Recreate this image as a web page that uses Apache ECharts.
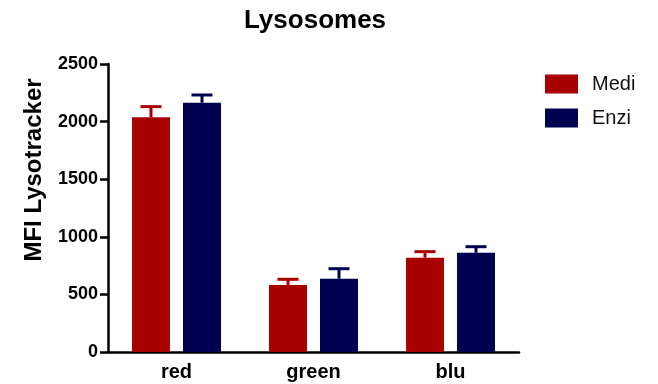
<!DOCTYPE html>
<html>
<head>
<meta charset="utf-8">
<style>
  html, body { margin: 0; padding: 0; background: #fff; }
  #chart { width: 658px; height: 384px; }
</style>
<script src="https://cdn.jsdelivr.net/npm/echarts@6/dist/echarts.min.js"></script>
</head>
<body>
<div id="chart"></div>
<script>
// Lysotracker mean fluorescence per channel, two conditions (mean + SEM)
const categories = ['red', 'green', 'blu'];
const mediMean = [2037, 582, 819];
const mediErr = [93, 49, 52];
const enziMean = [2164, 636, 862];
const enziErr = [67, 87, 52];
const yTicks = [0, 500, 1000, 1500, 2000, 2500];

const RED = '#A80000';
const NAVY = '#000050';
const FONT = 'Liberation Sans, Arial, sans-serif';
const BAR_W = 38;
const BAR_GAP = 13;

// Upward error bar (stem + cap) drawn on top of a bar, shifted to its slot
function errorBar(offset, color) {
  return function (params, api) {
    const idx = api.value(0);
    const top = api.coord([idx, api.value(2)]);
    const base = api.coord([idx, api.value(1)]);
    const x = top[0] + offset;
    const capHalf = 10.5;
    return {
      type: 'group',
      children: [
        { type: 'line', shape: { x1: x, y1: base[1], x2: x, y2: top[1] },
          style: { stroke: color, lineWidth: 3 } },
        { type: 'line', shape: { x1: x - capHalf, y1: top[1], x2: x + capHalf, y2: top[1] },
          style: { stroke: color, lineWidth: 3 } }
      ]
    };
  };
}

function errData(mean, err) {
  return mean.map((m, i) => [i, m, m + err[i]]);
}

const chart = echarts.init(document.getElementById('chart'), null, { renderer: 'canvas' });
const half = (BAR_W + BAR_GAP) / 2;

chart.setOption({
  animation: false,
  backgroundColor: '#ffffff',
  title: {
    text: 'Lysosomes',
    left: 310,
    textAlign: 'center',
    top: 3,
    textStyle: { fontFamily: FONT, fontSize: 26, fontWeight: 'bold', color: '#000' }
  },
  legend: {
    orient: 'vertical',
    left: 545,
    top: 74,
    padding: 0,
    itemWidth: 33,
    itemHeight: 19,
    itemGap: 14,
    icon: 'rect',
    textStyle: { fontFamily: FONT, fontSize: 20, color: '#111', padding: [0, 0, 0, 9] },
    data: ['Medi', 'Enzi']
  },
  grid: { left: 108, top: 64, width: 411, height: 288, containLabel: false },
  xAxis: {
    type: 'category',
    data: categories,
    axisLine: { lineStyle: { color: '#000', width: 2.5 } },
    axisTick: { alignWithLabel: true, length: 9, lineStyle: { color: '#000', width: 2.5 } },
    axisLabel: { fontFamily: FONT, fontSize: 20, fontWeight: 'bold', color: '#000', margin: 10 }
  },
  yAxis: {
    type: 'value',
    min: yTicks[0],
    max: yTicks[yTicks.length - 1],
    interval: 500,
    name: 'MFI Lysotracker',
    nameLocation: 'middle',
    nameGap: 62,
    nameTextStyle: { fontFamily: FONT, fontSize: 24, fontWeight: 'bold', color: '#000', padding: [0, 0, 0, 76] },
    axisLine: { show: true, lineStyle: { color: '#000', width: 2.5 } },
    axisTick: { show: true, length: 8, lineStyle: { color: '#000', width: 2.5 } },
    axisLabel: { fontFamily: FONT, fontSize: 18, fontWeight: 'bold', color: '#000', margin: 10,
      formatter: v => String(v) },
    splitLine: { show: false }
  },
  series: [
    { name: 'Medi', type: 'bar', data: mediMean, barWidth: BAR_W, barGap: (BAR_GAP / BAR_W * 100) + '%',
      itemStyle: { color: RED }, z: 2 },
    { name: 'Enzi', type: 'bar', data: enziMean, barWidth: BAR_W,
      itemStyle: { color: NAVY }, z: 2 },
    { type: 'custom', name: 'Medi', renderItem: errorBar(-half, RED),
      data: errData(mediMean, mediErr), encode: { x: 0, y: 2 }, z: 1, silent: true },
    { type: 'custom', name: 'Enzi', renderItem: errorBar(half, NAVY),
      data: errData(enziMean, enziErr), encode: { x: 0, y: 2 }, z: 1, silent: true }
  ]
});
</script>
</body>
</html>
